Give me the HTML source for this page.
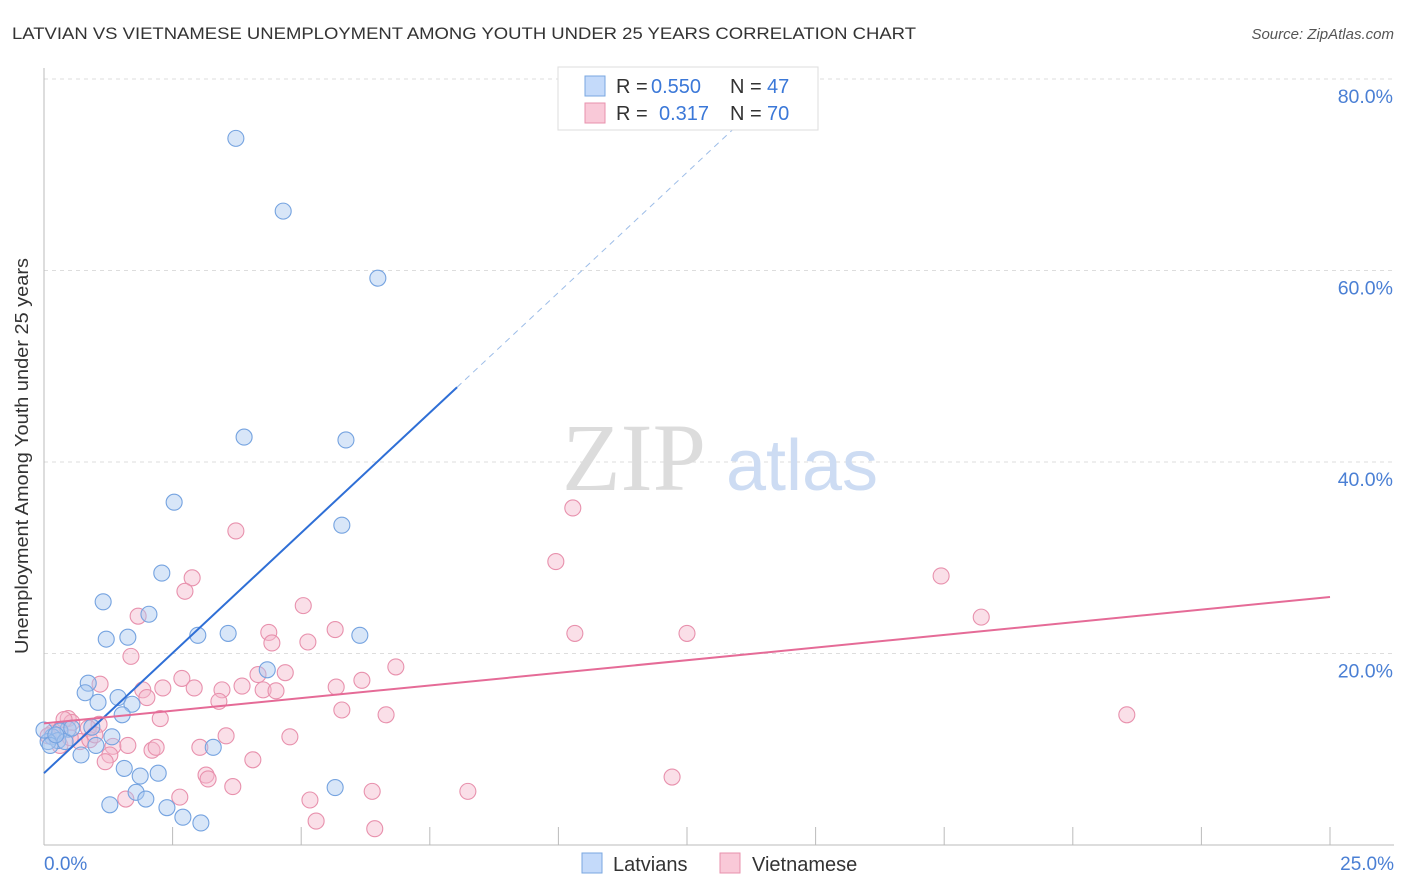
<!DOCTYPE html>
<html><head><meta charset="utf-8">
<style>
body{margin:0;background:#fff;font-family:"Liberation Sans",sans-serif;}
svg{display:block}
</style></head>
<body>
<svg id="chart" width="1406" height="892" xmlns="http://www.w3.org/2000/svg">
<text x="12" y="39" font-size="17" fill="#333" textLength="904" lengthAdjust="spacingAndGlyphs">LATVIAN VS VIETNAMESE UNEMPLOYMENT AMONG YOUTH UNDER 25 YEARS CORRELATION CHART</text>
<text x="1394" y="39" font-size="15" fill="#555" font-style="italic" text-anchor="end">Source: ZipAtlas.com</text>
<g id="grid"></g>
<text x="634" y="490" font-size="96" fill="#dcdcdc" font-family="Liberation Serif,serif" text-anchor="middle">ZIP</text>
<text x="802" y="490" font-size="72" fill="#cddcf3" text-anchor="middle">atlas</text>
<g id="axes"></g>
<g id="pts"></g>
<g id="lines"></g>
<text x="28" y="456" font-size="18" fill="#333" text-anchor="middle" textLength="396" lengthAdjust="spacingAndGlyphs" transform="rotate(-90 28 456)">Unemployment Among Youth under 25 years</text>
<text x="44" y="870" font-size="19" fill="#4a7fd4">0.0%</text>
<text x="1394" y="870" font-size="19" fill="#4a7fd4" text-anchor="end">25.0%</text>
<g>
<rect x="558" y="67" width="260" height="63" fill="#fff" stroke="#ddd"/>
<rect x="585" y="76" width="20" height="20" fill="#c4dafa" stroke="#7aa7e0"/>
<rect x="585" y="103" width="20" height="20" fill="#f9c9d8" stroke="#e891ad"/>
<text x="616" y="93" font-size="20" fill="#333">R =</text>
<text x="651" y="93" font-size="20" fill="#3b78d8">0.550</text>
<text x="730" y="93" font-size="20" fill="#333">N =</text>
<text x="767" y="93" font-size="20" fill="#3b78d8">47</text>
<text x="616" y="120" font-size="20" fill="#333">R =</text>
<text x="659" y="120" font-size="20" fill="#3b78d8">0.317</text>
<text x="730" y="120" font-size="20" fill="#333">N =</text>
<text x="767" y="120" font-size="20" fill="#3b78d8">70</text>
</g>
<g>
<rect x="582" y="853" width="20" height="20" fill="#c4dafa" stroke="#7aa7e0"/>
<text x="613" y="871" font-size="20" fill="#333">Latvians</text>
<rect x="720" y="853" width="20" height="20" fill="#f9c9d8" stroke="#e891ad"/>
<text x="752" y="871" font-size="20" fill="#333">Vietnamese</text>
</g>
</svg>
<script>
const yTicks=[20,40,60,80];
const yTickLabels=["20.0%","40.0%","60.0%","80.0%"];
const xTicks=[2.5,5,7.5,10,12.5,15,17.5,20,22.5,25];
const latX=[3.73,4.65,6.49,3.89,5.87,2.53,5.79,2.29,1.15,2.04,1.21,1.63,2.99,3.58,6.14,4.34,0.86,0.80,1.44,1.05,1.71,1.52,0.93,0.47,0.31,0.16,0.27,0.08,1.32,1.01,0.72,3.29,1.56,1.87,2.22,1.79,1.98,1.28,2.39,2.70,3.05,5.66,0,0.12,0.41,0.54,0.23];
const latY=[73.8,66.2,59.2,42.6,42.3,35.8,33.4,28.4,25.4,24.1,21.5,21.7,21.9,22.1,21.9,18.3,16.9,15.9,15.4,14.9,14.7,13.6,12.3,12.1,11.9,11.3,10.9,10.8,11.3,10.4,9.4,10.2,8.0,7.2,7.5,5.5,4.8,4.2,3.9,2.9,2.3,6.0,12.0,10.4,10.8,12.2,11.5];
const vieX=[10.28,3.73,9.95,2.88,2.74,17.44,5.04,1.83,18.22,4.37,5.66,10.32,12.50,4.43,5.13,1.69,6.84,2.68,4.16,4.69,3.85,4.26,2.31,2.92,3.46,5.68,6.18,1.09,1.92,2.00,4.51,3.40,5.79,6.65,2.26,21.05,0.47,0.54,1.07,0.86,0.31,0.16,0.08,3.54,4.78,0.70,1.34,1.63,3.03,2.10,2.18,1.28,1.19,4.06,3.15,3.19,12.21,3.67,6.38,8.24,1.59,2.64,5.17,5.29,6.43,0.89,0.31,0.51,0.99,0.39];
const vieY=[35.2,32.8,29.6,27.9,26.5,28.1,25.0,23.9,23.8,22.2,22.5,22.1,22.1,21.1,21.2,19.7,18.6,17.4,17.8,18.0,16.6,16.2,16.4,16.4,16.2,16.5,17.2,16.8,16.2,15.4,16.1,15.0,14.1,13.6,13.2,13.6,13.2,12.8,12.6,12.2,12.0,11.7,11.4,11.4,11.3,10.8,10.3,10.4,10.2,9.9,10.2,9.4,8.7,8.9,7.3,6.9,7.1,6.1,5.6,5.6,4.8,5.0,4.7,2.5,1.7,11.0,10.4,11.2,11.5,13.1];
const latTrend=[7.5,5.02]; // intercept, slope
const vieTrend=[12.7,0.528];
const latSolidEnd=8.03, latDashEnd=13.43;

const NS="http://www.w3.org/2000/svg";
const X0=44,X1=1330,Y0=845,Y80=79;
const sx=v=>X0+(X1-X0)*v/25;
const sy=v=>Y0-(Y0-Y80)*v/80;
function mk(tag,attrs,parent){const e=document.createElementNS(NS,tag);for(const k in attrs)e.setAttribute(k,attrs[k]);parent.appendChild(e);return e;}
const grid=document.getElementById('grid'),axes=document.getElementById('axes'),pts=document.getElementById('pts'),lines=document.getElementById('lines');
yTicks.forEach((t,i)=>{
  const l=mk('line',{x1:X0,x2:1394,y1:sy(t),y2:sy(t),stroke:'#ddd','stroke-dasharray':'4,4'},grid);
  
  
  const tx=mk('text',{x:1393,y:sy(t)+24,'font-size':19.5,fill:'#4a7fd4','text-anchor':'end'},grid);
  tx.textContent=yTickLabels[i];
  
  
});
const ya=mk('line',{x1:X0,x2:X0,y1:68,y2:Y0,stroke:'#bbb'},axes);


const xa=mk('line',{x1:X0,x2:1394,y1:Y0,y2:Y0,stroke:'#bbb'},axes);


xTicks.forEach(t=>{
  const l=mk('line',{x1:sx(t),x2:sx(t),y1:Y0-18,y2:Y0,stroke:'#bbb'},axes);
  
  
});
function dots(xs,ys,fill,stroke,name){
  xs.forEach((x,i)=>{
    const c=mk('circle',{cx:sx(x),cy:sy(ys[i]),r:8,fill:fill,'fill-opacity':0.45,stroke:stroke,'stroke-width':1.1},pts);
    
    
  });
}
dots(vieX,vieY,'#f5b8cb','#e891ad','vietnamese-point');
dots(latX,latY,'#a8c8f0','#75a3e0','latvian-point');
const f=(tr,x)=>tr[0]+tr[1]*x;
const lb=mk('line',{x1:sx(0),y1:sy(f(latTrend,0)),x2:sx(latSolidEnd),y2:sy(f(latTrend,latSolidEnd)),stroke:'#2f6fd6','stroke-width':2},lines);


const ld=mk('line',{x1:sx(latSolidEnd),y1:sy(f(latTrend,latSolidEnd)),x2:sx(latDashEnd),y2:sy(f(latTrend,latDashEnd)),stroke:'#9dbde8','stroke-width':1,'stroke-dasharray':'6,5'},lines);


const lp=mk('line',{x1:sx(0),y1:sy(f(vieTrend,0)),x2:sx(25),y2:sy(f(vieTrend,25)),stroke:'#e56b97','stroke-width':2},lines);


</script>
</body></html>
